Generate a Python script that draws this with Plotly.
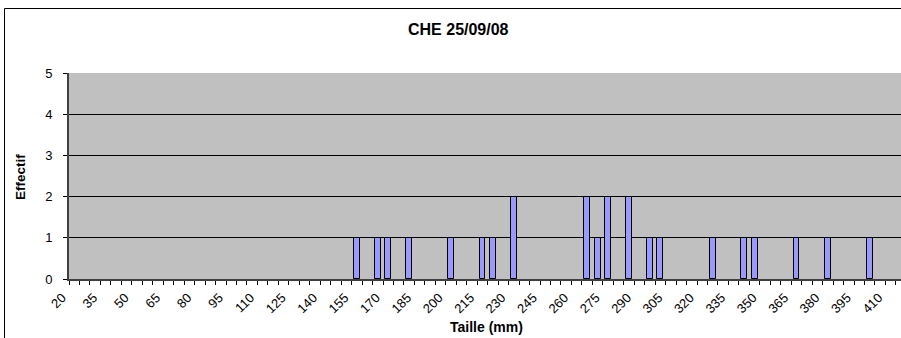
import plotly.graph_objects as go

# Size classes (mm), 5 mm bins from 20 to 410
sizes = list(range(20, 415, 5))
# Counts per size class (Effectif)
counts = [
    0, 0, 0, 0, 0, 0, 0, 0, 0, 0,   # 20-65
    0, 0, 0, 0, 0, 0, 0, 0, 0, 0,   # 70-115
    0, 0, 0, 0, 0, 0, 0, 1, 0, 1,   # 120-165
    1, 0, 1, 0, 0, 0, 1, 0, 0, 1,   # 170-215
    1, 0, 2, 0, 0, 0, 0, 0, 0, 2,   # 220-265
    1, 2, 0, 2, 0, 1, 1, 0, 0, 0,   # 270-315
    0, 1, 0, 0, 1, 1, 0, 0, 0, 1,   # 320-365
    0, 0, 1, 0, 0, 0, 1, 0, 0,      # 370-410
]
tick_labels = [str(v) for v in range(20, 415, 15)]
tick_vals = list(range(20, 415, 15))
boundaries = [v - 2.5 for v in range(20, 425, 5)]

title_text = "CHE 25/09/08"
x_title = "Taille (mm)"
y_title = "Effectif"

FONT = "Arial, Liberation Sans, sans-serif"

W, H = 901, 338
L, R, T, B = 69, 0, 73, 59
pw = W - L - R
ph = H - T - B
CAT_PX = 10.467            # pixel width of one 5 mm class

def px(x):
    return (x - L) / pw

def py(y):
    return (H - B - y) / ph

fig = go.Figure()
fig.add_trace(go.Bar(
    x=sizes,
    y=[c if c > 0 else None for c in counts],
    width=2.8,
    marker=dict(color="#9999FF", line=dict(color="#000000", width=1)),
    showlegend=False,
    hoverinfo="skip",
))

fig.update_layout(
    width=W, height=H,
    margin=dict(l=L, r=R, t=T, b=B, pad=0),
    paper_bgcolor="white",
    plot_bgcolor="#C0C0C0",
    font=dict(family=FONT, size=11, color="black"),
    bargap=0,
    xaxis=dict(
        range=[17.5, 17.5 + 5 * (pw / CAT_PX)],
        tickmode="array",
        tickvals=tick_vals,
        ticktext=tick_labels,
        tickangle=-45,
        ticks="",
        ticklen=0,
        ticklabelshift=-12,
        ticklabelstandoff=4,
        showgrid=False,
        zeroline=False,
        showline=True,
        linecolor="#404040",
        linewidth=2,
        tickfont=dict(family=FONT, size=13),
        minor=dict(tickmode="array", tickvals=boundaries, ticks="outside",
                   ticklen=4, tickcolor="#000000", tickwidth=1, showgrid=False),
    ),
    yaxis=dict(
        range=[0, 5],
        tickmode="array",
        tickvals=[0, 1, 2, 3, 4, 5],
        ticks="outside",
        ticklen=4,
        tickcolor="#000000",
        showgrid=True,
        gridcolor="#000000",
        gridwidth=1,
        zeroline=False,
        showline=True,
        linecolor="#404040",
        linewidth=2,
        tickfont=dict(family=FONT, size=13),
        ticklabelstandoff=8,
    ),
    annotations=[
        dict(text="<b>%s</b>" % title_text, x=px(458), y=py(29), xref="paper", yref="paper",
             showarrow=False, xanchor="center", yanchor="middle",
             font=dict(family=FONT, size=16)),
        dict(text="<b>%s</b>" % x_title, x=px(486), y=py(327), xref="paper", yref="paper",
             showarrow=False, xanchor="center", yanchor="middle",
             font=dict(family=FONT, size=14)),
        dict(text="<b>%s</b>" % y_title, x=px(20), y=py(177), xref="paper", yref="paper",
             showarrow=False, xanchor="center", yanchor="middle", textangle=-90,
             font=dict(family=FONT, size=13.5)),
    ],
    shapes=[
        dict(type="line", xref="paper", yref="paper", x0=px(4.5), x1=px(4.5),
             y0=py(345), y1=py(8.5), line=dict(color="black", width=1)),
        dict(type="line", xref="paper", yref="paper", x0=px(4.5), x1=px(910),
             y0=py(8.5), y1=py(8.5), line=dict(color="black", width=1)),
    ],
)

fig.write_html(
    "out.html",
    config={"displayModeBar": False},
    post_script="document.body.style.margin='0';document.body.style.overflow='hidden';",
)
